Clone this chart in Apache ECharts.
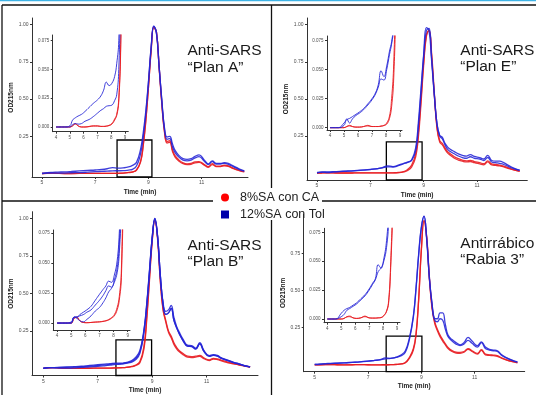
<!DOCTYPE html>
<html><head><meta charset="utf-8">
<script src="https://cdn.jsdelivr.net/npm/echarts@6/dist/echarts.min.js"></script>
<style>html,body{margin:0;padding:0;background:#fff}#c{width:536px;height:395px}</style>
</head><body><div id="c"></div>
<script>
// Time axis (min) shared by all traces
const time = [4.0,4.6,5.0,5.2,5.4,5.6,5.85,6.1,6.4,6.7,7.0,7.25,7.45,7.65,7.85,8.05,8.25,8.4,8.55,8.7,8.8,8.9,9.0,9.1,9.2,9.3,9.4,9.5,9.6,9.7,9.8,9.9,10.0,10.15,10.3,10.45,10.6,10.75,10.9,11.1,11.25,11.4,11.55,11.7,11.85,12.0,12.2,12.4,12.6];

// Anti-SARS "Plan A"
const planA_blue1 = [0,0,0.001,0.006,0.008,0.0095,0.011,0.0135,0.017,0.0205,0.0235,0.027,0.032,0.039,0.036,0.038,0.044,0.055,0.075,0.16,0.27,0.42,0.62,0.85,0.99,0.94,0.72,0.5,0.31,0.245,0.25,0.2,0.155,0.12,0.1,0.095,0.1,0.115,0.125,0.09,0.065,0.085,0.068,0.068,0.073,0.068,0.05,0.032,0.018];
const planA_blue2 = [0,0,0,0.002,0.003,0.0025,0.003,0.005,0.0065,0.009,0.012,0.0145,0.016,0.018,0.0185,0.019,0.023,0.028,0.05,0.13,0.24,0.4,0.61,0.84,0.99,0.95,0.72,0.49,0.3,0.23,0.235,0.18,0.14,0.11,0.09,0.085,0.09,0.105,0.113,0.082,0.06,0.08,0.063,0.064,0.068,0.062,0.045,0.028,0.016];
const planA_red1 = [0,0,0,0.001,0.003,0.001,0,0,0.0005,0.001,0.001,0.0005,0.0005,0.0008,0.0015,0.003,0.007,0.011,0.025,0.08,0.19,0.36,0.58,0.82,0.98,0.95,0.72,0.48,0.29,0.215,0.22,0.16,0.12,0.09,0.072,0.065,0.068,0.078,0.08,0.06,0.046,0.066,0.05,0.05,0.056,0.052,0.035,0.022,0.012];
const planA_red2 = [0,0,0,0.001,0.0025,0.001,0,0,0.0003,0.0008,0.0008,0.0005,0.0005,0.0007,0.0012,0.0025,0.006,0.01,0.022,0.075,0.18,0.35,0.58,0.83,0.985,0.95,0.71,0.47,0.28,0.205,0.21,0.15,0.11,0.083,0.066,0.06,0.062,0.072,0.075,0.056,0.042,0.06,0.046,0.046,0.052,0.048,0.032,0.02,0.011];

// Anti-SARS "Plan E"
const planE_blue1 = [0,0,0.004,0.007,0.008,0.0095,0.0115,0.0135,0.0165,0.0205,0.025,0.03,0.037,0.049,0.044,0.053,0.066,0.074,0.09,0.17,0.34,0.57,0.8,0.98,0.96,0.75,0.52,0.33,0.255,0.24,0.2,0.175,0.16,0.145,0.13,0.12,0.115,0.125,0.112,0.105,0.095,0.12,0.085,0.08,0.08,0.07,0.05,0.032,0.02];
const planE_blue2 = [0,0,0.002,0.0075,0.004,0.0075,0.0105,0.0125,0.0155,0.0195,0.024,0.029,0.035,0.042,0.041,0.05,0.063,0.072,0.086,0.15,0.31,0.54,0.79,0.96,0.975,0.77,0.53,0.33,0.25,0.23,0.19,0.16,0.145,0.13,0.115,0.105,0.1,0.11,0.1,0.095,0.085,0.105,0.075,0.07,0.065,0.058,0.042,0.028,0.018];
const planE_red1 = [0,0,0,0.001,0.002,0.001,0.0005,0.0005,0.001,0.002,0.001,0.001,0.001,0.0015,0.002,0.004,0.01,0.025,0.055,0.13,0.27,0.5,0.75,0.93,0.96,0.78,0.52,0.3,0.21,0.19,0.16,0.135,0.12,0.1,0.088,0.08,0.075,0.078,0.07,0.062,0.056,0.075,0.055,0.052,0.048,0.042,0.03,0.02,0.012];
const planE_red2 = [0,0,0,0.001,0.0015,0.001,0.0005,0.0005,0.001,0.0015,0.001,0.001,0.001,0.0012,0.0018,0.003,0.008,0.018,0.042,0.11,0.24,0.47,0.73,0.92,0.965,0.8,0.54,0.31,0.22,0.2,0.17,0.145,0.13,0.11,0.097,0.088,0.083,0.086,0.078,0.07,0.063,0.082,0.062,0.058,0.054,0.047,0.034,0.022,0.013];

// Anti-SARS "Plan B"
const planB_blue1 = [0,0,0.001,0.005,0.005,0.007,0.009,0.011,0.014,0.019,0.024,0.028,0.031,0.035,0.034,0.04,0.052,0.075,0.12,0.26,0.43,0.65,0.87,1.0,0.88,0.62,0.44,0.38,0.39,0.42,0.34,0.28,0.24,0.19,0.155,0.152,0.135,0.172,0.12,0.085,0.092,0.086,0.07,0.06,0.05,0.04,0.03,0.018,0.01];
const planB_blue2 = [0,0,0,0.005,0.005,0.006,0.007,0.009,0.011,0.015,0.019,0.023,0.027,0.031,0.03,0.036,0.046,0.066,0.11,0.25,0.42,0.64,0.87,1.0,0.88,0.62,0.43,0.36,0.37,0.4,0.32,0.27,0.23,0.18,0.148,0.145,0.128,0.163,0.113,0.08,0.087,0.081,0.066,0.056,0.047,0.038,0.028,0.017,0.01];
const planB_blue3 = [0,0,0,0.005,0.004,0.002,0.001,0.003,0.006,0.01,0.013,0.017,0.021,0.026,0.029,0.034,0.042,0.058,0.1,0.24,0.41,0.63,0.86,0.995,0.88,0.62,0.43,0.36,0.37,0.4,0.32,0.27,0.23,0.18,0.148,0.146,0.13,0.165,0.115,0.081,0.088,0.082,0.067,0.057,0.048,0.038,0.028,0.017,0.01];
const planB_red1 = [0,0,0,0.004,0.005,0.002,0.0005,0.0003,0.0005,0.0008,0.001,0.0015,0.002,0.003,0.0045,0.007,0.013,0.022,0.045,0.15,0.34,0.6,0.85,0.99,0.86,0.58,0.39,0.31,0.24,0.205,0.16,0.13,0.11,0.09,0.075,0.072,0.075,0.08,0.065,0.052,0.062,0.058,0.05,0.042,0.035,0.03,0.022,0.015,0.008];
const planB_red2 = [0,0,0,0.004,0.0045,0.002,0.0005,0.0003,0.0005,0.0008,0.001,0.0013,0.0018,0.0025,0.004,0.006,0.011,0.019,0.038,0.13,0.32,0.58,0.84,0.99,0.87,0.59,0.4,0.32,0.25,0.215,0.17,0.14,0.118,0.097,0.081,0.078,0.081,0.086,0.07,0.057,0.067,0.063,0.054,0.046,0.038,0.032,0.024,0.016,0.009];

// Antirrábico "Rabia 3"
const rabia_blue1 = [0,0,0.005,0.0075,0.009,0.01,0.012,0.014,0.0175,0.021,0.026,0.031,0.035,0.047,0.044,0.052,0.068,0.095,0.18,0.33,0.52,0.75,0.93,1.0,0.84,0.58,0.41,0.31,0.31,0.35,0.35,0.27,0.2,0.17,0.15,0.135,0.15,0.185,0.16,0.13,0.155,0.12,0.105,0.1,0.095,0.07,0.048,0.032,0.02];
const rabia_blue2 = [0,0,0.002,0.004,0.0075,0.009,0.011,0.013,0.0165,0.02,0.025,0.03,0.034,0.041,0.044,0.05,0.062,0.085,0.17,0.32,0.51,0.74,0.92,1.0,0.85,0.59,0.41,0.3,0.29,0.31,0.3,0.24,0.19,0.16,0.14,0.13,0.14,0.165,0.145,0.12,0.15,0.11,0.1,0.095,0.09,0.065,0.045,0.03,0.018];
const rabia_red1 = [0,0,0,0.0005,0.002,0.0025,0.001,0.0005,0.001,0.0025,0.001,0.0008,0.0008,0.001,0.0012,0.003,0.007,0.016,0.05,0.11,0.21,0.45,0.78,0.97,0.85,0.58,0.38,0.28,0.23,0.19,0.16,0.135,0.11,0.09,0.08,0.078,0.085,0.105,0.09,0.072,0.098,0.068,0.064,0.062,0.058,0.045,0.032,0.022,0.014];
const rabia_red2 = [0,0,0,0.0005,0.0018,0.002,0.001,0.0005,0.001,0.002,0.001,0.0008,0.0008,0.001,0.0012,0.0028,0.0065,0.014,0.045,0.1,0.2,0.44,0.77,0.97,0.86,0.59,0.39,0.29,0.24,0.2,0.17,0.142,0.117,0.096,0.086,0.084,0.09,0.11,0.095,0.077,0.102,0.073,0.068,0.066,0.062,0.048,0.034,0.023,0.015];

// zoom boxes [t0, t1, ytop]
const boxA = [7.82, 9.13, 0.225];
const boxE = [7.6, 8.94, 0.21];
const boxB = [7.67, 8.98, 0.19];
const boxR = [7.68, 9.02, 0.194];

const mainXTicks = [5, 7, 9, 11];
const mainYTicks = [0.25, 0.5, 0.75, 1.0];
const mainYTicksR = [0.25, 0.5, 0.75];
const insetXTicks = [4, 5, 6, 7, 8, 9];
const insetYTicks = [0, 0.025, 0.05, 0.075];

const seriesNames = ['8%SA con CA', '12%SA con Tol'];
const RED = 'rgba(232,30,36,0.9)', BLUE = 'rgba(36,36,214,0.88)';
const FONT = 'Liberation Sans';

const panels = [
  {title:'Anti-SARS\n“Plan A”', tx:187.5, ty:42.5, red:[planA_red1,planA_red2], blue:[planA_blue1,planA_blue2], box:boxA, yTicks:mainYTicks,
   main:{left:32,top:18,width:216,height:159,x:[4.624,12.74],y:[-0.0235,1.045]},
   inset:{left:52.7,top:35,width:75.6,height:96.7,x:[3.76,9.24],y:[-0.0041,0.08]}},
  {title:'Anti-SARS\n“Plan E”', tx:460.3, ty:42, red:[planE_red1,planE_red2], blue:[planE_blue1,planE_blue2], box:boxE, yTicks:mainYTicks,
   main:{left:307,top:18,width:220.3,height:162,x:[4.625,12.885],y:[-0.0465,1.045]},
   inset:{left:327,top:36,width:75,height:94,x:[3.786,9.143],y:[-0.002,0.079]}},
  {title:'Anti-SARS\n“Plan B”', tx:187.5, ty:237, red:[planB_red1,planB_red2], blue:[planB_blue1,planB_blue2,planB_blue3], box:boxB, yTicks:mainYTicks,
   main:{left:32,top:211.7,width:226,height:165,x:[4.585,12.89],y:[-0.0477,1.045]},
   inset:{left:53.3,top:230,width:76.7,height:100,x:[3.73,9.16],y:[-0.0058,0.0777]}},
  {title:'Antirrábico\n“Rabia 3”', tx:460.3, ty:235, red:[rabia_red1,rabia_red2], blue:[rabia_blue1,rabia_blue2], box:boxR, yTicks:mainYTicksR,
   main:{left:303.7,top:214,width:221,height:157.7,x:[4.588,12.874],y:[-0.0457,1.014]},
   inset:{left:324,top:228.3,width:76,height:94.4,x:[3.76,9.215],y:[-0.0032,0.0785]}}
];

function pts(arr, tmin) { return time.map((t, i) => [t, arr[i]]).filter(d => d[0] >= tmin); }

const grids = [], xAxes = [], yAxes = [], series = [];
const axisCommon = () => ({
  axisLine: {onZero: false, lineStyle: {color: '#333', width: 1}},
  splitLine: {show: false},
});
panels.forEach((p, k) => {
  [['main', p.main], ['inset', p.inset]].forEach(([kind, g], j) => {
    const gi = 2 * k + j;
    const isMain = kind === 'main';
    grids.push({left: g.left, top: g.top, width: g.width, height: g.height, containLabel: false});
    const xt = isMain ? mainXTicks : insetXTicks;
    const yt = isMain ? p.yTicks : insetYTicks;
    const fs = isMain ? 5 : 4.5;
    const xa = Object.assign(axisCommon(), {
      type: 'value', gridIndex: gi, min: g.x[0], max: g.x[1],
      axisTick: {customValues: xt, length: 2, lineStyle: {color: '#333'}},
      axisLabel: {customValues: xt, fontSize: fs, color: '#4d4d4d', margin: 3.5, fontFamily: FONT, formatter: v => String(Math.round(v))}
    });
    const ya = Object.assign(axisCommon(), {
      type: 'value', gridIndex: gi, min: g.y[0], max: g.y[1],
      axisTick: {customValues: yt, length: 2, lineStyle: {color: '#333'}},
      axisLabel: {customValues: yt, fontSize: fs, color: '#4d4d4d', margin: 3.5, fontFamily: FONT, formatter: v => isMain ? v.toFixed(2) : v.toFixed(3)}
    });
    if (isMain) {
      xa.name = 'Time (min)'; xa.nameLocation = 'middle'; xa.nameGap = 11.5;
      xa.nameTextStyle = {fontSize: 6.5, fontWeight: 'bold', color: '#222', fontFamily: FONT};
      ya.name = 'OD215nm'; ya.nameLocation = 'middle'; ya.nameGap = 14.5;
      ya.nameTextStyle = {fontSize: 6.5, fontWeight: 'bold', color: '#222', fontFamily: FONT};
    }
    xAxes.push(xa); yAxes.push(ya);
    const tmin = isMain ? 5 : 0;
    const lw = isMain ? 1.3 : 1.0;
    p.red.forEach(arr => series.push({
      type: 'line', name: seriesNames[0], xAxisIndex: gi, yAxisIndex: gi, data: pts(arr, tmin),
      showSymbol: false, symbol: 'none', smooth: 0.45, lineStyle: {color: RED, width: lw}, itemStyle: {color: RED}, silent: true
    }));
    p.blue.forEach((arr, bi) => {
      const s = {
        type: 'line', name: seriesNames[1], xAxisIndex: gi, yAxisIndex: gi, data: pts(arr, tmin),
        showSymbol: false, symbol: 'none', smooth: 0.45, lineStyle: {color: BLUE, width: lw}, itemStyle: {color: BLUE}, silent: true
      };
      if (isMain && bi === 0) {
        s.markArea = {silent: true, itemStyle: {color: 'rgba(0,0,0,0)', borderColor: '#000', borderWidth: 1.3},
          data: [[{xAxis: p.box[0], yAxis: g.y[0]}, {xAxis: p.box[1], yAxis: p.box[2]}]]};
      }
      series.push(s);
    });
  });
});

const L = (x1, y1, x2, y2, color, w) => ({type: 'line', silent: true, z: 100, shape: {x1, y1, x2, y2}, style: {stroke: color, lineWidth: w}});

const option = {
  animation: false,
  backgroundColor: '#fff',
  title: panels.map(p => ({text: p.title, left: p.tx, top: p.ty, padding: 0,
    textStyle: {fontSize: 15.5, lineHeight: 16.5, fontWeight: 'normal', color: '#1a1a1a', fontFamily: FONT}})),
  legend: {
    left: 216, top: 185.5, orient: 'vertical', itemWidth: 8, itemHeight: 8, itemGap: 3, selectedMode: false,
    textStyle: {fontSize: 12.5, color: '#222', fontFamily: FONT, padding: [0, 0, 0, 6], lineHeight: 14},
    data: [
      {name: seriesNames[0], icon: 'circle', itemStyle: {color: '#ff0000'}},
      {name: seriesNames[1], icon: 'rect', itemStyle: {color: '#0000aa'}}
    ]
  },
  grid: grids, xAxis: xAxes, yAxis: yAxes, series,
  graphic: [
    L(0, 0.6, 536, 0.6, '#3fb3e6', 1.3),
    L(2, 5, 536, 5, '#111', 1.3),
    L(2, 5, 2, 395, '#111', 1.3),
    L(271.5, 5, 271.5, 188, '#111', 1.3),
    L(271.5, 220, 271.5, 395, '#111', 1.3),
    L(2, 201, 213, 201, '#111', 1.3),
    L(322, 201, 536, 201, '#111', 1.3)
  ]
};
const chart = echarts.init(document.getElementById('c'), null, {renderer: 'canvas'});
chart.setOption(option);
</script>
</body></html>
